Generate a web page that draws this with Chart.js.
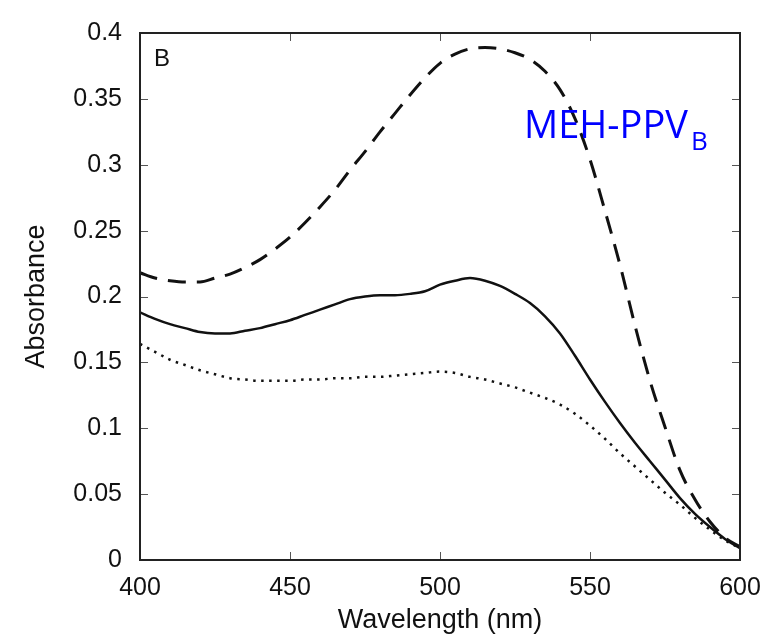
<!DOCTYPE html>
<html>
<head>
<meta charset="utf-8">
<script src="https://cdn.jsdelivr.net/npm/chart.js@4.4.1/dist/chart.umd.min.js"></script>
<style>
    html, body { margin: 0; padding: 0; background: #fff; }
    #wrap { width: 778px; height: 638px; position: relative; }
</style>
</head>
<body>
<div id="wrap"><canvas id="absChart" width="778" height="638"></canvas></div>
<script>
// Спектры поглощения MEH-PPV (панель B)

const wavelengths = [400, 405, 410, 415, 420, 425, 430, 435, 440, 445, 450, 455, 460, 465, 470, 475, 480, 485, 490, 495,
    500, 505, 510, 515, 520, 525, 530, 535, 540, 545, 550, 555, 560, 565, 570, 575, 580, 585, 590, 595, 600];

// пунктир (длинные штрихи)
const dashedAbs = [0.218, 0.214, 0.212, 0.211, 0.211, 0.214, 0.217, 0.222, 0.228, 0.236, 0.245, 0.256, 0.268, 0.281, 0.296, 0.310, 0.325, 0.339, 0.353, 0.366,
    0.377, 0.384, 0.388, 0.389, 0.388, 0.385, 0.380, 0.371, 0.357, 0.335, 0.304, 0.265, 0.224, 0.178, 0.136, 0.101, 0.068, 0.046, 0.029, 0.017, 0.010];

// сплошная линия
const solidAbs = [0.188, 0.183, 0.179, 0.176, 0.173, 0.172, 0.172, 0.174, 0.176, 0.179, 0.182, 0.186, 0.190, 0.194, 0.198, 0.200, 0.201, 0.201, 0.202, 0.204,
    0.209, 0.212, 0.214, 0.212, 0.208, 0.202, 0.195, 0.185, 0.172, 0.155, 0.137, 0.120, 0.104, 0.089, 0.075, 0.061, 0.047, 0.035, 0.025, 0.016, 0.009];

// точки
const dottedAbs = [0.164, 0.158, 0.152, 0.148, 0.144, 0.141, 0.138, 0.137, 0.136, 0.136, 0.136, 0.137, 0.137, 0.138, 0.138, 0.139, 0.139, 0.140, 0.141, 0.142,
    0.143, 0.142, 0.139, 0.137, 0.134, 0.131, 0.127, 0.123, 0.118, 0.111, 0.102, 0.092, 0.081, 0.071, 0.061, 0.051, 0.042, 0.032, 0.023, 0.015, 0.009];

const xTicks = [400, 450, 500, 550, 600];
const yTicks = [0, 0.05, 0.1, 0.15, 0.2, 0.25, 0.3, 0.35, 0.4];

const panelLabel = 'B';
const sampleName = 'MEH-PPV';
const sampleSub = 'B';

function toPoints(values) {
    return wavelengths.map((w, i) => ({ x: w, y: values[i] }));
}

// рамка, внутренние засечки и подписи
const framePlugin = {
    id: 'frame',
    afterDraw(chart) {
        const { ctx, chartArea: a, scales } = chart;
        ctx.save();
        ctx.strokeStyle = '#555';
        ctx.lineWidth = 1;
        const len = 8;
        ctx.beginPath();
        yTicks.forEach(v => {
            const y = Math.round(scales.y.getPixelForValue(v)) + 0.5;
            ctx.moveTo(a.left, y); ctx.lineTo(a.left + len, y);
            ctx.moveTo(a.right, y); ctx.lineTo(a.right - len, y);
        });
        xTicks.forEach(v => {
            const x = Math.round(scales.x.getPixelForValue(v)) + 0.5;
            ctx.moveTo(x, a.bottom); ctx.lineTo(x, a.bottom - len);
            ctx.moveTo(x, a.top); ctx.lineTo(x, a.top + len);
        });
        ctx.stroke();

        ctx.strokeStyle = '#222';
        ctx.lineWidth = 2;
        ctx.strokeRect(a.left, a.top, a.right - a.left, a.bottom - a.top);

        ctx.fillStyle = '#111';
        ctx.font = '24px "Liberation Sans", Arial, sans-serif';
        ctx.textBaseline = 'alphabetic';
        ctx.fillText(panelLabel, a.left + 14, a.top + 33);

        ctx.fillStyle = '#0000ff';
        ctx.font = '38px "Open Sans", "Noto Sans", sans-serif';
        ctx.fillText(sampleName, 524, 138);
        const w = ctx.measureText(sampleName).width;
        ctx.font = '26px "Open Sans", "Noto Sans", sans-serif';
        ctx.fillText(sampleSub, 524 + w + 3, 150);
        ctx.restore();
    }
};

const tickFont = { family: '"Liberation Sans", Arial, sans-serif', size: 25 };
const titleFont = { family: '"Liberation Sans", Arial, sans-serif', size: 27 };

new Chart(document.getElementById('absChart'), {
    type: 'line',
    data: {
        datasets: [
            {
                data: toPoints(dashedAbs),
                borderColor: '#111',
                borderWidth: 3,
                borderDash: [18, 11],
                pointRadius: 0,
                cubicInterpolationMode: 'monotone'
            },
            {
                data: toPoints(solidAbs),
                borderColor: '#111',
                borderWidth: 2.5,
                pointRadius: 0,
                cubicInterpolationMode: 'monotone'
            },
            {
                data: toPoints(dottedAbs),
                borderColor: '#111',
                borderWidth: 2.5,
                borderDash: [2.5, 5.5],
                pointRadius: 0,
                cubicInterpolationMode: 'monotone'
            }
        ]
    },
    options: {
        responsive: false,
        animation: false,
        layout: { padding: { top: 24, right: 38, left: 0, bottom: 0 } },
        plugins: { legend: { display: false }, tooltip: { enabled: false } },
        scales: {
            x: {
                type: 'linear',
                min: 400,
                max: 600,
                afterFit: s => { s.height = 78; },
                afterBuildTicks: s => { s.ticks = xTicks.map(v => ({ value: v })); },
                grid: { display: false, drawTicks: false },
                border: { display: false },
                ticks: { font: tickFont, color: '#111', padding: 13, maxRotation: 0 },
                title: { display: true, text: 'Wavelength (nm)', font: titleFont, color: '#111', padding: { top: 0, bottom: 1 } }
            },
            y: {
                min: 0,
                max: 0.4,
                afterFit: s => { s.width = 140; },
                afterBuildTicks: s => { s.ticks = yTicks.map(v => ({ value: v })); },
                grid: { display: false, drawTicks: false },
                border: { display: false },
                ticks: {
                    font: tickFont,
                    color: '#111',
                    padding: 18,
                    callback: v => String(parseFloat(v.toFixed(2)))
                },
                title: { display: true, text: 'Absorbance', font: titleFont, color: '#111', padding: { top: 20, bottom: 0 } }
            }
        }
    },
    plugins: [framePlugin]
});
</script>
</body>
</html>
